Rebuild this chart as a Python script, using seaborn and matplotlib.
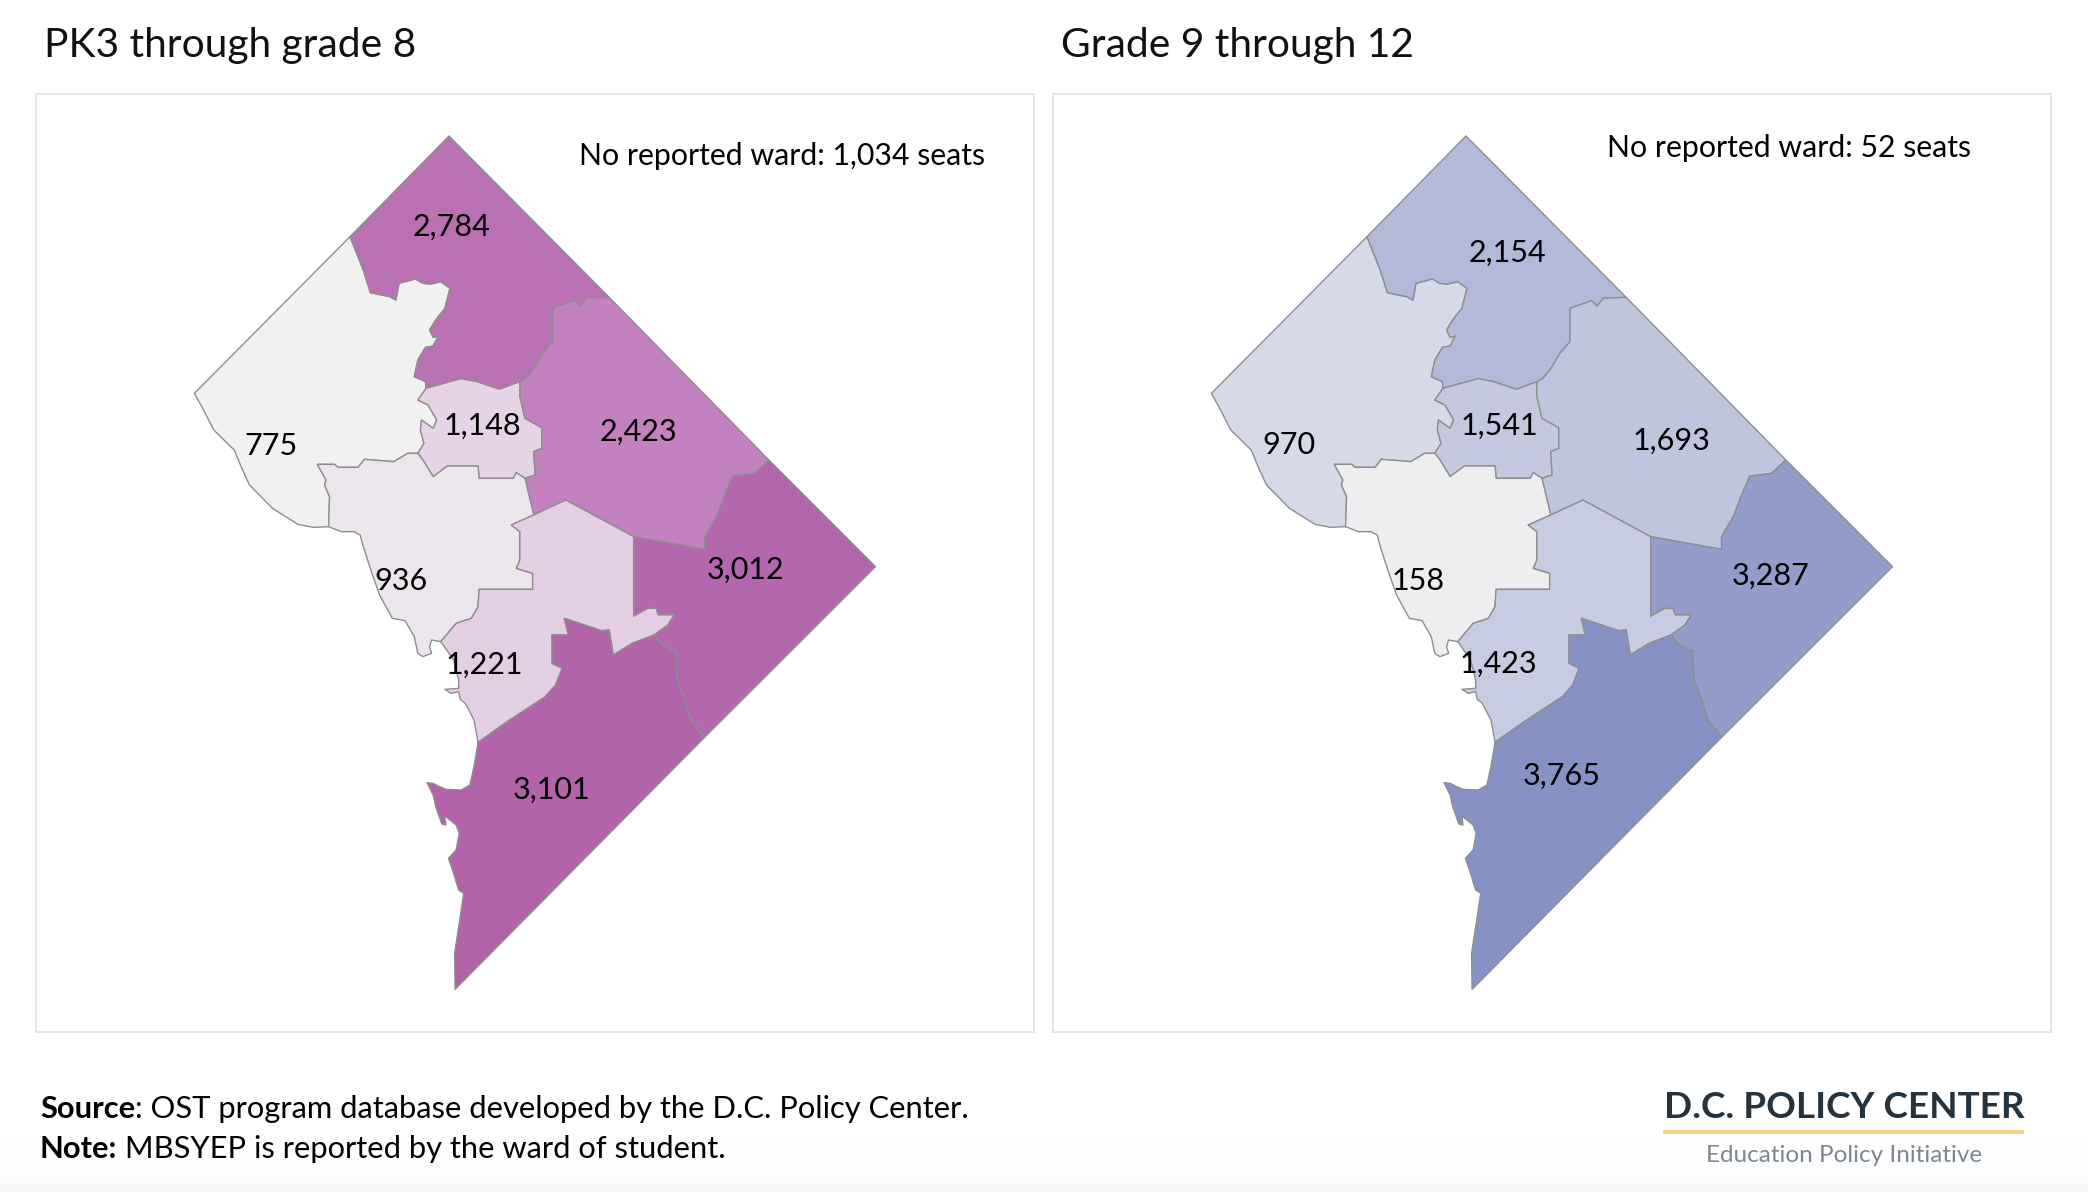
import numpy as np
import matplotlib
matplotlib.use("Agg")
import matplotlib.pyplot as plt
import seaborn as sns

W, H = 2088, 1192

# values by ward
wards = ["w3", "w4", "w1", "w5", "w2", "w6", "w7", "w8"]
seats_elem = [775, 2784, 1148, 2423, 936, 1221, 3012, 3101]
seats_high = [970, 2154, 1541, 1693, 158, 1423, 3287, 3765]

# label positions, map units
label_x_elem = [237, 590, 652, 958, 492, 655, 1168, 786]
label_y_elem = [1009, 351, 948, 966, 1414, 1664, 1378, 2038]
label_x_high = [239, 667, 651, 988, 492, 649, 1184, 774]
label_y_high = [1006, 427, 946, 991, 1414, 1661, 1397, 1997]

titles = ["PK3 through grade 8", "Grade 9 through 12"]
no_ward = ["No reported ward: 1,034 seats", "No reported ward: 52 seats"]

c34 = [(392, 380), (405, 430), (418, 480), (432, 548), (470, 560), (482, 570), (488, 520), (520, 507),
       (535, 520), (550, 522), (570, 515), (588, 535), (578, 595), (560, 630), (548, 660), (555, 682),
       (565, 678), (555, 708), (540, 712), (525, 750), (518, 800), (540, 815), (541, 835)]
c41 = [(541, 835), (610, 806), (640, 815), (685, 838), (725, 815)]
c45 = [(725, 815), (737, 805), (755, 770), (770, 730), (790, 695), (790, 595), (832, 572), (843, 588),
       (855, 565), (900, 562)]
c31 = [(541, 835), (525, 870), (545, 885), (562, 930), (555, 955), (532, 930), (530, 960), (537, 1000),
       (525, 1030)]
c32 = [(525, 1030), (505, 1030), (478, 1055), (420, 1048), (408, 1072), (368, 1072), (362, 1063),
       (328, 1063), (345, 1110), (342, 1125), (352, 1160), (350, 1250)]
coast3 = [(350, 1250), (320, 1252), (290, 1243), (240, 1195), (195, 1125), (180, 1075), (165, 1020),
          (125, 960), (105, 900), (87, 850)]
c12 = [(525, 1030), (535, 1050), (555, 1100), (583, 1068), (643, 1068), (645, 1105), (712, 1105),
       (718, 1088), (735, 1105)]
c15 = [(725, 815), (725, 860), (735, 925), (768, 953), (768, 1015), (752, 1025), (755, 1095), (735, 1105)]
c25 = [(735, 1105), (752, 1215)]
c56 = [(752, 1215), (815, 1170), (948, 1280)]
c57 = [(948, 1280), (1087, 1318), (1087, 1280), (1110, 1220), (1125, 1160), (1142, 1098), (1185, 1090),
       (1213, 1050)]
c26 = [(752, 1215), (708, 1245), (725, 1265), (725, 1350), (718, 1375), (750, 1390), (750, 1438),
       (645, 1438), (643, 1490), (630, 1525), (600, 1540), (570, 1595)]
coast2 = [(570, 1595), (552, 1590), (548, 1610), (552, 1630), (535, 1640), (525, 1630), (518, 1580),
          (500, 1532), (475, 1525), (450, 1455), (435, 1390), (418, 1310), (412, 1275), (400, 1265),
          (375, 1265), (350, 1250)]
c67 = [(948, 1280), (948, 1518), (975, 1495), (992, 1495), (996, 1514), (1028, 1514), (1015, 1545),
       (988, 1575)]
c78 = [(988, 1575), (1000, 1600), (1022, 1622), (1030, 1620), (1033, 1710), (1050, 1780), (1060, 1830),
       (1087, 1882)]
c68 = [(988, 1575), (945, 1600), (908, 1635), (900, 1560), (885, 1562), (812, 1525), (820, 1575),
       (788, 1575), (788, 1660), (808, 1675), (795, 1725), (775, 1760), (700, 1835), (643, 1897)]
coast6 = [(643, 1897), (635, 1830), (618, 1780), (608, 1768), (605, 1745), (590, 1750), (578, 1738),
          (605, 1735), (605, 1710), (595, 1650), (570, 1595)]
coast8 = [(643, 1897), (635, 1970), (627, 2025), (610, 2040), (580, 2038), (565, 2028), (555, 2020),
          (543, 2018), (555, 2055), (560, 2090), (572, 2142), (580, 2145), (578, 2118), (600, 2145),
          (606, 2170), (600, 2220), (585, 2245), (595, 2290), (605, 2340), (615, 2350), (597, 2530),
          (598, 2638)]
north_tip = (586, 78)
east_tip = (1422, 1370)
se_junction = (1087, 1882)

shapes = {
    "w3": c34 + c31 + c32 + coast3,
    "w4": [north_tip] + c45[::-1] + c41[::-1] + c34[::-1],
    "w1": c41 + c15 + c12[::-1] + c31[::-1],
    "w5": c45 + c57[::-1] + c56[::-1] + c25[::-1] + c15[::-1],
    "w2": c32[::-1] + c12 + c25 + c26 + coast2,
    "w6": c56 + c67 + c68 + coast6 + c26[::-1],
    "w7": [c57[-1], east_tip, se_junction] + c78[::-1] + c67[::-1] + c57,
    "w8": c78 + coast8[::-1] + c68[::-1],
}

sns.set_theme(style="white")
plt.rcParams["font.family"] = ["Lato", "DejaVu Sans"]

cmap_elem = sns.blend_palette(["#f1f1f1", "#cf97cf", "#b263aa"], as_cmap=True)
cmap_high = sns.blend_palette(["#eeeef1", "#b8bedb", "#8792c4"], as_cmap=True)

fig = plt.figure(figsize=(W / 100, H / 100), dpi=100)

# faint grey fade at the foot of the page
bg = fig.add_axes([0, 0, 1, 1], zorder=-1)
bg.imshow(np.linspace(0, 1, 200)[:, None] ** 3, cmap=sns.blend_palette(["#ffffff", "#f8f8f8"], as_cmap=True),
          aspect="auto", extent=(0, 1, 0, 70 / H))
bg.set_xlim(0, 1)
bg.set_ylim(0, 1)
bg.axis("off")


def draw_panel(left, seats, cmap, lx, ly):
    right = left + 998
    top, bottom = 94, 1032
    ax = fig.add_axes([left / W, 1 - bottom / H, (right - left) / W, (bottom - top) / H])
    ax.set_xlim((36 - 150) * 1.96, (1034 - 150) * 1.96)
    ax.set_ylim((bottom - 110) * 3, (top - 110) * 3)
    ax.set_xticks([])
    ax.set_yticks([])
    for s in ax.spines.values():
        s.set_color("#e6e6e6")
        s.set_linewidth(1.4)
    norm = plt.Normalize(min(seats), max(seats))
    for name, v in zip(wards, seats):
        pts = shapes[name]
        ax.fill([p[0] for p in pts], [p[1] for p in pts], facecolor=cmap(norm(v)),
                edgecolor="#8e8e8e", linewidth=1.0, joinstyle="round")
    for v, x, y in zip(seats, lx, ly):
        ax.text(x, y, f"{v:,}", ha="center", va="center", fontsize=22, color="black")
    return ax


draw_panel(36, seats_elem, cmap_elem, label_x_elem, label_y_elem)
draw_panel(1053, seats_high, cmap_high, label_x_high, label_y_high)


def page_text(x, y, s, **kw):
    return fig.text(x / W, 1 - y / H, s, **kw)


page_text(44, 46, titles[0], fontsize=29.3, va="center", color="#111111")
page_text(1061, 46, titles[1], fontsize=29.3, va="center", color="#111111")
page_text(579, 156, no_ward[0], fontsize=21.8, va="center", color="black")
page_text(1607, 148, no_ward[1], fontsize=21.8, va="center", color="black")

# source lines, bold lead then regular text on the same baseline
renderer = fig.canvas.get_renderer()
for y, lead, rest in [(1118, "Source", ": OST program database developed by the D.C. Policy Center."),
                      (1158, "Note:", " MBSYEP is reported by the ward of student.")]:
    t = page_text(40, y, lead, fontsize=22.2, fontweight="bold", va="baseline", color="black")
    w = t.get_window_extent(renderer).width
    page_text(40 + w, y, rest, fontsize=22.2, va="baseline", color="black")

# logo block
page_text(1844, 1108, "D.C. POLICY CENTER", fontsize=26.6, fontweight="bold", ha="center", va="center", color="#25333f")
fig.add_artist(plt.Rectangle((1663 / W, 1 - 1134 / H), 361 / W, 4 / H, transform=fig.transFigure,
                             facecolor="#efd48a", edgecolor="none"))
page_text(1844, 1156, "Education Policy Initiative", fontsize=17.5, ha="center", va="center", color="#7b8793")

fig.savefig("out.png", dpi=100)
